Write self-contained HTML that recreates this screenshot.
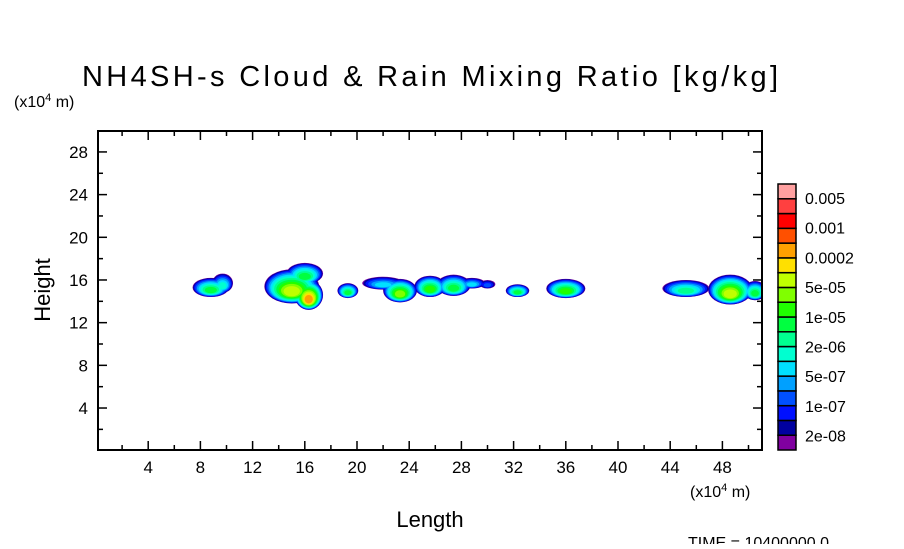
<!DOCTYPE html>
<html><head><meta charset="utf-8"><style>
body{margin:0;background:#fff;width:904px;height:544px;overflow:hidden}
svg text{font-family:"Liberation Sans",sans-serif;fill:#000}
</style></head><body>
<svg id="chart" width="904" height="544" viewBox="0 0 904 544" xmlns="http://www.w3.org/2000/svg">
<defs><clipPath id="pc"><rect x="98" y="131" width="664" height="319"/></clipPath></defs>
<text x="82" y="86" font-size="29" textLength="696" lengthAdjust="spacing">NH4SH-s Cloud &amp; Rain Mixing Ratio [kg/kg]</text>
<text x="14" y="107" font-size="16">(x10<tspan font-size="11" dy="-6">4</tspan><tspan dy="6"> m)</tspan></text>
<text x="690" y="497" font-size="16">(x10<tspan font-size="11" dy="-6">4</tspan><tspan dy="6"> m)</tspan></text>
<text transform="translate(50,290) rotate(-90)" font-size="22" text-anchor="middle">Height</text>
<text x="430" y="527" font-size="22" text-anchor="middle">Length</text>
<text x="688" y="548" font-size="16">TIME = 10400000.0</text>
<g id="clouds" clip-path="url(#pc)"></g>
<g id="axes"></g>
<g id="cbar"></g>
</svg>
<script>
const xTicks=[4,8,12,16,20,24,28,32,36,40,44,48];
const yTicks=[4,8,12,16,20,24,28];
const blobX=[8.8,9.7,15.0,16.3,16.0,19.3,22.0,23.3,25.6,27.4,28.8,30.0,32.3,36.0,45.2,48.6,50.5];
const blobY=[15.3,15.7,15.4,14.6,16.6,15.0,15.7,15.0,15.4,15.5,15.7,15.6,15.0,15.2,15.2,15.1,15.0];
const blobW=[1.4,0.8,2.1,1.1,1.4,0.8,1.6,1.3,1.2,1.3,1.0,0.6,0.9,1.5,1.8,1.7,0.9];
const blobH=[0.9,0.9,1.6,1.4,1.0,0.7,0.6,1.1,1.0,1.0,0.5,0.4,0.6,0.9,0.8,1.4,0.9];
const blobPeak=[8,6,11,13,8,8,5,10,9,8,5,3,8,9,7,11,8];
const levelColors=["#8000a0","#0000a0","#0010ff","#0050ff","#00a0ff","#00e0ff","#00ffd0","#00ff90","#00ff40","#20ff00","#80ff00","#c0ff00","#ffe000","#ffa000","#ff5000","#ff0000","#ff4040","#ffa0a0"];
const cbarLabels=["0.005","0.001","0.0002","5e-05","1e-05","2e-06","5e-07","1e-07","2e-08"];
const NS="http://www.w3.org/2000/svg";
const X0=96,KX=13.05,Y0=450.7,KY=10.67;
const sx=v=>X0+v*KX, sy=v=>Y0-v*KY;
function mk(t,a,p){const e=document.createElementNS(NS,t);for(const k in a)e.setAttribute(k,a[k]);p.appendChild(e);return e;}
const cg=document.getElementById('clouds');
for(let l=0;l<levelColors.length;l++){
  for(let i=0;i<blobX.length;i++){
    if(l>blobPeak[i])continue;
    const f=l/(blobPeak[i]+1);
    const s=1-0.8*Math.pow(f,1.5);
    const e=mk('ellipse',{cx:sx(blobX[i]),cy:sy(blobY[i]-(1-s)*blobH[i]*0.4),rx:blobW[i]*KX*s,ry:blobH[i]*KY*s,fill:levelColors[l]},cg);
    
    
  }
}
const ax=document.getElementById('axes');
const fr=mk('rect',{x:98,y:131,width:664,height:319,fill:'none',stroke:'#000','stroke-width':2},ax);


for(let v=2;v<=50;v+=2){
  const big=v%4===0,len=big?9:5;
  mk('line',{x1:sx(v),x2:sx(v),y1:450,y2:450-len,stroke:'#000','stroke-width':1.5},ax);
  mk('line',{x1:sx(v),x2:sx(v),y1:131,y2:131+len,stroke:'#000','stroke-width':1.5},ax);
}
for(let v=2;v<=28;v+=2){
  const big=v%4===0,len=big?9:5;
  mk('line',{x1:98,x2:98+len,y1:sy(v),y2:sy(v),stroke:'#000','stroke-width':1.5},ax);
  mk('line',{x1:762,x2:762-len,y1:sy(v),y2:sy(v),stroke:'#000','stroke-width':1.5},ax);
}
xTicks.forEach(v=>{const t=mk('text',{x:sx(v),y:473,'font-size':17,'text-anchor':'middle'},ax);t.textContent=v;

});
yTicks.forEach(v=>{const t=mk('text',{x:88,y:sy(v)+6,'font-size':17,'text-anchor':'end'},ax);t.textContent=v;

});
const cb=document.getElementById('cbar');
const nLev=levelColors.length,cbTop=184,cbBot=450,cbH=(cbBot-cbTop)/nLev;
for(let i=0;i<nLev;i++){
  const r=mk('rect',{x:778,y:cbBot-(i+1)*cbH,width:18,height:cbH,fill:levelColors[i],stroke:'#000','stroke-width':1.5},cb);
  
  
}
cbarLabels.forEach((s,i)=>{const t=mk('text',{x:805,y:204+i*29.7,'font-size':16},cb);t.textContent=s;

});
</script>
</body></html>
